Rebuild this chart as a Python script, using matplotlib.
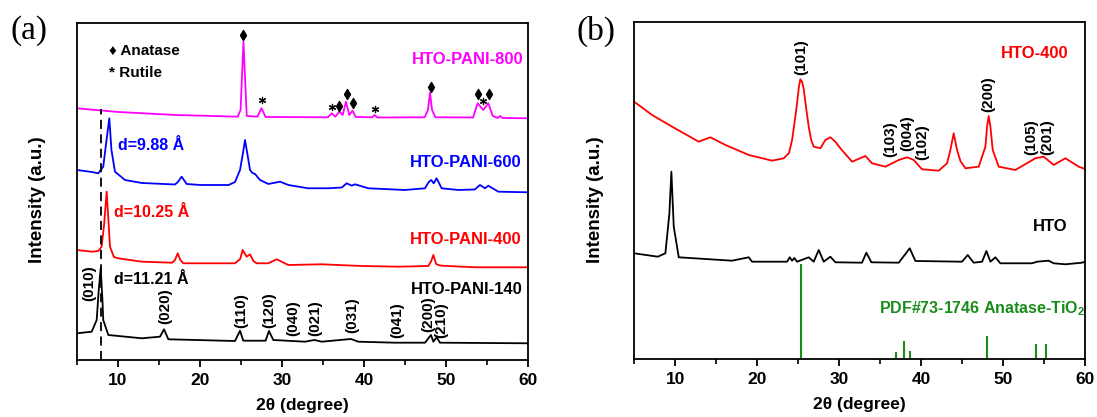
import matplotlib
matplotlib.use('Agg')
import matplotlib.pyplot as plt
from matplotlib.ticker import MultipleLocator

plt.rcParams['font.family'] = ['Liberation Sans', 'DejaVu Sans']
plt.rcParams['font.weight'] = 'bold'
plt.rcParams['mathtext.fontset'] = 'custom'
plt.rcParams['mathtext.rm'] = 'Liberation Sans:bold'
plt.rcParams['mathtext.bf'] = 'Liberation Sans:bold'

# ---------------- panel (a) data: 2theta (deg) / intensity (a.u.) ----------------
x_800 = [5.0, 10, 17, 24.6, 24.95, 25.15, 25.3, 25.45, 25.7, 27.0, 27.5, 28.0, 35.6, 36.06, 36.5,
         36.99, 37.4, 37.8, 38.2, 38.6, 39.0, 41.0, 41.3, 41.6, 47.4, 47.8, 48.05, 48.3, 48.7,
         53.3, 53.86, 54.55, 55.16, 55.7, 56.3, 56.6, 56.9, 60]
y_800 = [251.7, 248, 245, 243.3, 250, 290, 318.3, 290, 244, 243.3, 251.7, 243, 242.7, 246.7, 243.3,
         248.3, 245, 258.3, 245, 249.3, 243, 242.7, 245, 242.5, 242.7, 250, 267.3, 250, 242.7,
         242.5, 256.7, 250, 256.7, 244, 242, 244, 242, 241.7]

x_600 = [5.0, 6.8, 7.6, 8.2, 8.6, 8.94, 9.2, 9.63, 10.85, 12.9, 16.95, 17.3, 17.76, 18.37, 20.0,
         23.5, 24.27, 24.88, 25.2, 25.49, 25.8, 26.1, 26.4, 26.71, 27.32, 28.33, 29.76, 30.77, 33.2,
         35.65, 37.3, 37.89, 38.5, 38.9, 40.53, 45.0, 47.44, 47.9, 48.2, 48.5, 48.86, 49.47, 51.5,
         53.5, 54.15, 54.76, 55.16, 56.38, 60]
y_600 = [190, 188, 186.7, 193.3, 220, 241.7, 210, 188.3, 180, 177, 175.5, 178, 183.3, 176, 175,
         175, 178, 190, 205, 220, 205, 190, 187, 186, 180, 176, 178.3, 175, 171.7,
         171.7, 172.5, 176.7, 174.3, 175.7, 171.7, 170, 171.7, 178, 180, 176.7, 181.7, 171.7, 170,
         170.5, 175, 171.7, 174.3, 168.3, 167.7]

x_400 = [5.0, 6.8, 7.6, 8.0, 8.3, 8.62, 8.9, 9.02, 9.5, 10.0, 12.89, 16.6, 16.95, 17.28, 17.6,
         17.97, 24.27, 24.9, 25.2, 25.69, 26.1, 26.5, 26.91, 28.33, 29.35, 30.77, 34.84, 39.7,
         44.19, 47.85, 48.2, 48.46, 48.8, 49.07, 49.47, 53.54, 60]
y_400 = [110, 108.3, 109, 113.3, 135, 168.3, 130, 113.3, 103, 101.7, 98.3, 97.3, 100, 106.7, 100,
         96.7, 96.7, 101, 110, 103.3, 105.7, 99, 96.7, 96.7, 100.7, 95, 95.7, 94,
         93.3, 94, 99, 105, 96, 95, 94.3, 92.7, 92.7]

x_140 = [5.0, 6.79, 7.4, 7.65, 7.89, 8.1, 8.2, 8.82, 12.89, 15.12, 15.61, 16.14, 24.27, 24.88,
         25.28, 28.0, 28.41, 28.94, 32.8, 33.94, 34.84, 38.41, 39.31, 43.78, 47.44, 48.17, 48.46,
         48.86, 49.27, 60]
y_140 = [26.7, 28.3, 40, 70, 91.7, 60, 40, 25, 21.7, 23.3, 30.7, 20.7, 19, 29.3,
         19.3, 19.3, 29, 20, 18.3, 20, 18.3, 21, 18.3, 17.3, 17.3, 25, 18.3,
         22.7, 17.3, 16.7]

anatase_x = [25.3, 36.99, 37.89, 38.7, 48.17, 53.94, 55.3]
anatase_y = [325, 254, 266, 256.7, 273.3, 266, 266]
rutile_x = [27.52, 36.06, 41.4, 54.55]
rutile_y = [260, 252.7, 250.7, 259]

hkl_a = ['(010)', '(020)', '(110)', '(120)', '(040)', '(021)', '(031)', '(041)', '(200)', '(210)']
hkl_a_x = [6.46, 15.8, 25.0, 28.5, 31.4, 34.0, 38.6, 44.0, 47.8, 49.4]
hkl_a_y = [77, 54, 49, 50, 42, 42, 45, 40, 46, 40]

# ---------------- panel (b) data ----------------
x_hto400 = [5.0, 7.2, 9.63, 12.89, 14.31, 16.14, 19.0, 21.83, 23.25, 23.9, 24.27, 24.6, 24.88,
            25.1, 25.28, 25.5, 25.69, 26.0, 26.3, 26.6, 26.91, 27.72, 28.33, 28.94, 29.55, 30.16,
            31.59, 33.21, 34.02, 35.65, 37.28, 38.29, 39.11, 40.12, 42.15, 43.17, 43.58, 43.98,
            44.39, 44.8, 45.41, 47.03, 47.85, 48.05, 48.25, 48.46, 48.74, 49.47, 51.5, 53.94,
            54.96, 56.18, 57.6, 59.23, 60]
y_hto400 = [257.3, 244, 232.3, 217.3, 221.7, 214, 204, 198.3, 200.7, 206, 219, 238, 255.7,
            272, 279.7, 277, 270, 250, 232.3, 219, 212.3, 210.7, 219, 221.7, 217.3, 210.7,
            197.3, 203, 195.7, 192.3, 199, 201.7, 199, 189.7, 188.3, 195.7, 209, 225.7,
            209, 198, 190.7, 192.3, 212.3, 232.3, 243, 232.3, 209, 192.3, 189, 200.7,
            202.3, 194, 200.7, 192.3, 190]

x_hto = [5.0, 7.89, 8.82, 9.31, 9.55, 9.84, 10.45, 16.95, 18.98, 19.39, 23.66, 23.98, 24.27, 24.55,
         24.88, 26.3, 26.91, 27.52, 28.13, 28.94, 29.55, 32.8, 33.33, 33.94, 37.28, 38.62, 39.31,
         45.0, 45.69, 46.42, 47.44, 47.97, 48.46, 49.07, 49.67, 53.54, 54.15, 55.57, 56.18, 57.6,
         59.64, 60]
y_hto = [105.7, 102.3, 105.7, 145.7, 187.3, 132.3, 101.7, 98.3, 101.7, 97.3, 97.3, 101.7, 98.3, 101,
         97.3, 101.7, 97.3, 109, 97.3, 102.3, 96.7, 96.3, 106.3, 96.7, 96.3, 110.7, 98,
         97.3, 104, 96.3, 97.3, 108, 97.3, 101.7, 95.7, 95.7, 97.3, 98.3, 95.7, 94.7,
         96.3, 97.3]

pdf_x = [25.3, 37.0, 37.9, 38.6, 48.1, 54.0, 55.2]
pdf_int = [94.7, 7.3, 18.3, 8, 23.3, 15, 15]

hkl_b = ['(101)', '(103)', '(004)', '(102)', '(200)', '(105)', '(201)']
hkl_b_x = [25.4, 36.3, 38.3, 40.2, 48.2, 53.5, 55.4]
hkl_b_y = [302.3, 220, 225.7, 217.3, 265, 221.7, 222.3]

MAGENTA = '#ff00ff'
BLUE = '#0000ff'
RED = '#ff0000'
GREEN = '#1a8c1a'

fig = plt.figure(figsize=(10.97, 4.17), dpi=100)
ax1 = fig.add_axes([0.0702, 0.1367, 0.4111, 0.8082])
ax2 = fig.add_axes([0.5780, 0.1391, 0.4111, 0.8082])

for ax in (ax1, ax2):
    ax.set_xlim(5, 60)
    ax.set_ylim(0, 337)
    ax.set_yticks([])
    ax.xaxis.set_major_locator(MultipleLocator(10))
    ax.xaxis.set_minor_locator(MultipleLocator(5))
    ax.tick_params(axis='x', which='major', direction='out', length=5, width=1.3, labelsize=12.5, pad=4.5)
    ax.tick_params(axis='x', which='minor', direction='out', length=3.5, width=1.2)
    for lab in ax.get_xticklabels():
        lab.set_fontweight('bold')
    for sp in ax.spines.values():
        sp.set_linewidth(1.3)
    ax.set_xlabel('2θ (degree)', fontsize=12.5, fontweight='bold', labelpad=7)

# ---- panel (a)
ax1.plot(x_800, y_800, color=MAGENTA, lw=1.3)
ax1.plot(x_600, y_600, color=BLUE, lw=1.3)
ax1.plot(x_400, y_400, color=RED, lw=1.3)
ax1.plot(x_140, y_140, color='black', lw=1.3)
ax1.plot([7.9, 7.9], [0, 251], color='black', lw=1.3, ls=(0, (5, 3)))

ax1.scatter(anatase_x, anatase_y, marker='d', s=26, color='black', zorder=3)
ax1.scatter(rutile_x, rutile_y, marker=(6, 2, 0), s=20, color='black', lw=0.9, zorder=3)

ax1.text(8.9, 309, '♦ Anatase', fontsize=11, fontweight='bold', va='center', ha='left')
ax1.text(8.9, 287, '* Rutile', fontsize=11, fontweight='bold', va='center', ha='left')

ax1.text(59.4, 300, 'HTO-PANI-800', color=MAGENTA, fontsize=12, fontweight='bold', ha='right', va='center')
ax1.text(59.2, 197.3, 'HTO-PANI-600', color=BLUE, fontsize=12, fontweight='bold', ha='right', va='center')
ax1.text(59.2, 120, 'HTO-PANI-400', color=RED, fontsize=12, fontweight='bold', ha='right', va='center')
ax1.text(59.4, 70.7, 'HTO-PANI-140', color='black', fontsize=12, fontweight='bold', ha='right', va='center')

ax1.text(10.04, 214, 'd=9.88 Å', color=BLUE, fontsize=11.5, fontweight='bold', ha='left', va='center')
ax1.text(9.55, 147.3, 'd=10.25 Å', color=RED, fontsize=11.5, fontweight='bold', ha='left', va='center')
ax1.text(9.55, 80, 'd=11.21 Å', color='black', fontsize=11.5, fontweight='bold', ha='left', va='center')

for lab, xx, yy in zip(hkl_a, hkl_a_x, hkl_a_y):
    ax1.text(xx, yy, lab, rotation=90, fontsize=11, fontweight='bold', ha='center', va='center')

# ---- panel (b)
ax2.plot(x_hto400, y_hto400, color=RED, lw=1.3)
ax2.plot(x_hto, y_hto, color='black', lw=1.3)
ax2.vlines(pdf_x, 0, pdf_int, color=GREEN, lw=1.5)

ax2.text(58.0, 305.7, 'HTO-400', color=RED, fontsize=12, fontweight='bold', ha='right', va='center')
ax2.text(57.8, 132.3, 'HTO', color='black', fontsize=12, fontweight='bold', ha='right', va='center')
ax2.text(34.9, 50.7, r'PDF#73-1746 Anatase-TiO$_\mathbf{2}$', color=GREEN, fontsize=11.5,
         fontweight='bold', ha='left', va='center')

for lab, xx, yy in zip(hkl_b, hkl_b_x, hkl_b_y):
    ax2.text(xx, yy, lab, rotation=90, fontsize=11, fontweight='bold', ha='center', va='center')

# axis titles and panel letters
fig.text(38 / 1097, 1 - 200 / 417, 'Intensity (a.u.)', rotation=90, fontsize=13.5,
         fontweight='bold', ha='center', va='center')
fig.text(595 / 1097, 1 - 200 / 417, 'Intensity (a.u.)', rotation=90, fontsize=13.5,
         fontweight='bold', ha='center', va='center')
fig.text(11 / 1097, 1 - 31 / 417, '(a)', family='Liberation Serif', fontweight='normal',
         fontsize=24, ha='left', va='center')
fig.text(577 / 1097, 1 - 31 / 417, '(b)', family='Liberation Serif', fontweight='normal',
         fontsize=24, ha='left', va='center')

fig.savefig('out.png', dpi=100)
